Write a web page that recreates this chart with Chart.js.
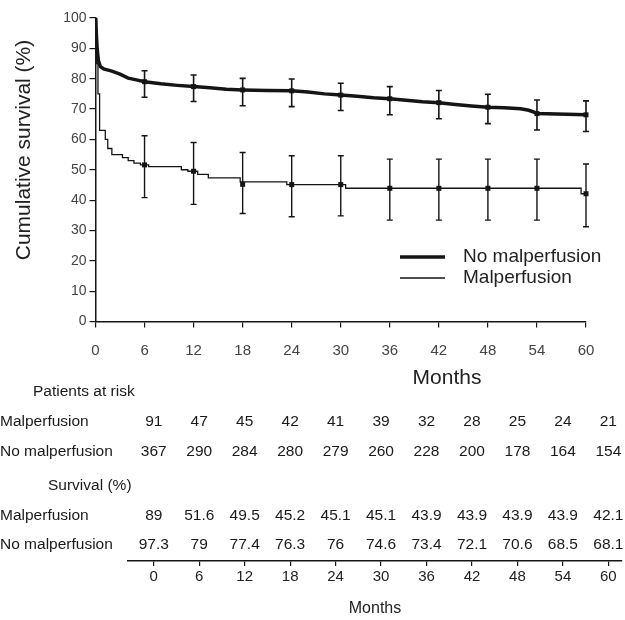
<!DOCTYPE html>
<html>
<head>
<meta charset="utf-8">
<script src="https://cdn.jsdelivr.net/npm/chart.js@4.4.1/dist/chart.umd.min.js"></script>
<style>
  body { margin: 0; background: #fff; }
  #wrap { position: relative; width: 625px; height: 620px; }
  #top { position: absolute; left: 0; top: 0; width: 625px; height: 400px; }
  #bottom { position: absolute; left: 0; top: 380px; width: 625px; height: 240px; }
</style>
</head>
<body>
<div id="wrap">
  <div id="top"><canvas id="survival-chart"></canvas></div>
  <div id="bottom"><canvas id="risk-table"></canvas></div>
</div>
<script>
// time points shown on both axes
const months = [0, 6, 12, 18, 24, 30, 36, 42, 48, 54, 60];

// Kaplan-Meier curves (months, %)
const noMalpTime = [0, 0.1, 0.2, 0.35, 0.6, 1, 2, 3, 4, 5, 6, 8, 10, 12, 14, 16, 18, 21, 24, 26, 28, 30, 32, 34, 36, 38, 40, 42, 44, 46, 48, 50, 52, 53, 53.8, 54, 60];
const noMalpSurv = [100, 95, 90, 86, 84, 83.2, 82.5, 81.5, 80.2, 79.6, 79, 78.3, 77.8, 77.4, 77, 76.5, 76.3, 76.1, 76, 75.6, 75, 74.6, 74.2, 73.7, 73.4, 72.9, 72.4, 72.1, 71.5, 71, 70.6, 70.4, 70.1, 69.6, 68.8, 68.5, 68.1];

const malpTime = [0, 0.15, 0.3, 0.5, 1.2, 1.5, 2, 3.3, 4, 4.7, 5.5, 6.5, 10.5, 11.3, 12.5, 13.8, 17.7, 23.4, 30.6, 59.4, 60];
const malpSurv = [100, 85, 75, 63, 60, 57, 55, 54, 53, 52.2, 51.6, 51, 50, 49.5, 48.5, 47.3, 46, 45.1, 43.9, 42.1, 42.1];

// confidence limits at 6..60 months
const ciNoMalpHi = [82.6, 81.2, 80.1, 79.9, 78.5, 77.4, 76.1, 74.9, 73.0, 72.7];
const ciNoMalpLo = [73.9, 72.5, 71.1, 70.8, 69.5, 68.1, 66.8, 65.2, 63.1, 62.6];
const ciMalpHi = [61.2, 59.0, 55.7, 54.6, 54.6, 53.5, 53.5, 53.5, 53.5, 51.9];
const ciMalpLo = [40.8, 38.6, 35.6, 34.5, 34.8, 33.4, 33.4, 33.4, 33.4, 31.2];

// table under the chart
const riskMalp = [91, 47, 45, 42, 41, 39, 32, 28, 25, 24, 21];
const riskNoMalp = [367, 290, 284, 280, 279, 260, 228, 200, 178, 164, 154];
const survMalp = ['89', '51.6', '49.5', '45.2', '45.1', '45.1', '43.9', '43.9', '43.9', '43.9', '42.1'];
const survNoMalp = ['97.3', '79', '77.4', '76.3', '76', '74.6', '73.4', '72.1', '70.6', '68.5', '68.1'];

const seriesNames = ['No malperfusion', 'Malperfusion'];
const yTicks = [0, 10, 20, 30, 40, 50, 60, 70, 80, 90, 100];

Chart.defaults.font.family = "'Liberation Sans', Arial, sans-serif";
Chart.defaults.color = '#222';
const ink = '#151515';

function pairs(xs, ys) {
  return xs.map((x, i) => ({ x: x, y: ys[i] }));
}

// error bars + centre dots
const errorBars = {
  id: 'errorBars',
  afterDatasetsDraw(chart) {
    const ctx = chart.ctx;
    const xs = chart.scales.x, ys = chart.scales.y;
    const sets = [
      { hi: ciNoMalpHi, lo: ciNoMalpLo, mid: survNoMalp, w: 1.6 },
      { hi: ciMalpHi, lo: ciMalpLo, mid: survMalp, w: 1.4 }
    ];
    ctx.save();
    ctx.strokeStyle = ink;
    ctx.fillStyle = ink;
    sets.forEach(s => {
      ctx.lineWidth = s.w;
      for (let i = 1; i < months.length; i++) {
        const px = xs.getPixelForValue(months[i]);
        const top = ys.getPixelForValue(s.hi[i - 1]);
        const bot = ys.getPixelForValue(s.lo[i - 1]);
        const mid = ys.getPixelForValue(parseFloat(s.mid[i]));
        ctx.beginPath();
        ctx.moveTo(px, top); ctx.lineTo(px, bot);
        ctx.moveTo(px - 3, top); ctx.lineTo(px + 3, top);
        ctx.moveTo(px - 3, bot); ctx.lineTo(px + 3, bot);
        ctx.stroke();
        ctx.fillRect(px - 2.5, mid - 2.5, 5, 5);
      }
    });
    ctx.restore();
  },
  afterDraw(chart) {
    const ctx = chart.ctx;
    const xs = chart.scales.x;
    ctx.save();
    // y axis title
    ctx.translate(24, 150);
    ctx.rotate(-Math.PI / 2);
    ctx.font = "21px 'Liberation Sans', Arial, sans-serif";
    ctx.fillStyle = '#222';
    ctx.textAlign = 'center';
    ctx.textBaseline = 'middle';
    ctx.fillText('Cumulative survival (%)', 0, 0);
    ctx.restore();

    // x axis title, sits right of centre
    ctx.save();
    ctx.font = "21px 'Liberation Sans', Arial, sans-serif";
    ctx.fillStyle = '#222';
    ctx.textAlign = 'center';
    ctx.textBaseline = 'middle';
    ctx.fillText('Months', xs.getPixelForValue(43), 378);

    // legend
    ctx.font = "19px 'Liberation Sans', Arial, sans-serif";
    ctx.textAlign = 'left';
    chart.data.datasets.forEach((ds, i) => {
      const y = 257 + i * 21;
      ctx.strokeStyle = ink;
      ctx.lineWidth = ds.borderWidth;
      ctx.beginPath();
      ctx.moveTo(400, y); ctx.lineTo(445, y);
      ctx.stroke();
      ctx.fillText(ds.label, 463, y);
    });
    ctx.restore();
  }
};

new Chart(document.getElementById('survival-chart'), {
  type: 'line',
  data: {
    datasets: [
      { label: seriesNames[0], data: pairs(noMalpTime, noMalpSurv), borderColor: ink, borderWidth: 3.5, pointRadius: 0, tension: 0 },
      { label: seriesNames[1], data: pairs(malpTime, malpSurv), borderColor: ink, borderWidth: 1.3, pointRadius: 0, stepped: true }
    ]
  },
  options: {
    responsive: true,
    maintainAspectRatio: false,
    animation: false,
    layout: { padding: { top: 18, right: 39, left: 0, bottom: 0 } },
    plugins: { legend: { display: false }, tooltip: { enabled: false } },
    scales: {
      x: {
        type: 'linear', min: 0, max: 60,
        afterBuildTicks: s => { s.ticks = months.map(v => ({ value: v })); },
        afterFit: s => { s.height = 78.5; },
        grid: { drawOnChartArea: false, tickLength: 6, color: ink, lineWidth: 1.2 },
        border: { color: ink, width: 1.5 },
        ticks: { font: { size: 15 }, color: '#444', padding: 14, maxRotation: 0 }
      },
      y: {
        type: 'linear', min: 0, max: 100,
        afterBuildTicks: s => { s.ticks = yTicks.map(v => ({ value: v })); },
        afterFit: s => { s.width = 95.5; },
        grid: { drawOnChartArea: false, tickLength: 6, color: ink, lineWidth: 1.2 },
        border: { color: ink, width: 1.5 },
        ticks: { font: { size: 14 }, color: '#444', padding: 3 }
      }
    }
  },
  plugins: [errorBars]
});

// numbers-at-risk table drawn on its own month axis
const tableRows = {
  id: 'tableRows',
  afterDraw(chart) {
    const ctx = chart.ctx;
    const xs = chart.scales.x;
    ctx.save();
    ctx.font = "15.5px 'Liberation Sans', Arial, sans-serif";
    ctx.fillStyle = '#1a1a1a';
    ctx.textBaseline = 'middle';
    ctx.textAlign = 'left';
    ctx.fillText('Patients at risk', 33, 12);
    ctx.fillText('Survival (%)', 48, 106);
    const rows = [
      { name: seriesNames[1], vals: riskMalp, y: 41.7 },
      { name: seriesNames[0], vals: riskNoMalp, y: 71.7 },
      { name: seriesNames[1], vals: survMalp, y: 135.7 },
      { name: seriesNames[0], vals: survNoMalp, y: 165 }
    ];
    rows.forEach(r => {
      ctx.textAlign = 'left';
      ctx.fillText(r.name, 0, r.y);
      ctx.textAlign = 'center';
      r.vals.forEach((v, i) => ctx.fillText(String(v), xs.getPixelForValue(months[i]), r.y));
    });
    ctx.restore();
  }
};

new Chart(document.getElementById('risk-table'), {
  type: 'line',
  data: { datasets: [{ data: [] }] },
  options: {
    responsive: true,
    maintainAspectRatio: false,
    animation: false,
    layout: { padding: { top: 0, right: 3, left: 128, bottom: 0 } },
    plugins: { legend: { display: false }, tooltip: { enabled: false } },
    scales: {
      x: {
        type: 'linear', min: -3.4, max: 61.8,
        afterBuildTicks: s => { s.ticks = months.map(v => ({ value: v })); },
        afterFit: s => { s.height = 59; },
        grid: { drawOnChartArea: false, tickLength: 5, color: ink, lineWidth: 1.2 },
        border: { color: ink, width: 1.5 },
        ticks: { font: { size: 15 }, color: '#222', padding: 2, maxRotation: 0 },
        title: { display: true, text: 'Months', font: { size: 16 }, color: '#222', padding: { top: 0, bottom: 2 } }
      },
      y: { display: false, min: 0, max: 1 }
    }
  },
  plugins: [tableRows]
});
</script>
</body>
</html>
